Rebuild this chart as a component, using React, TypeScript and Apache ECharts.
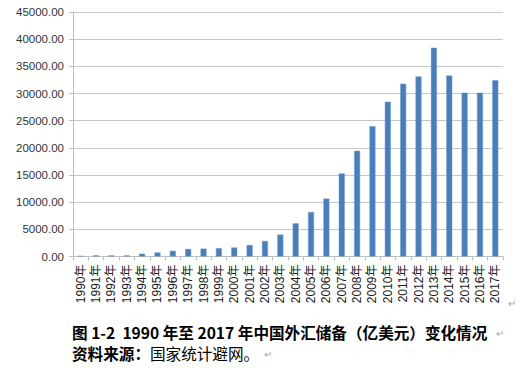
import React, { useEffect, useRef } from "react";
import * as echarts from "echarts";

const categories: string[] = [
  "1990年", "1991年", "1992年", "1993年", "1994年", "1995年", "1996年",
  "1997年", "1998年", "1999年", "2000年", "2001年", "2002年", "2003年",
  "2004年", "2005年", "2006年", "2007年", "2008年", "2009年", "2010年",
  "2011年", "2012年", "2013年", "2014年", "2015年", "2016年", "2017年",
];

const reserves: number[] = [
  110.93, 217.12, 194.43, 211.99, 516.2, 735.97, 1050.29,
  1398.9, 1449.59, 1546.75, 1655.74, 2121.65, 2864.07, 4032.51,
  6099.32, 8188.72, 10663.44, 15282.49, 19460.3, 23991.52, 28473.38,
  31811.48, 33115.89, 38430.18, 33303.62, 30150.0, 30150.0, 32450.0,
];

const yMin = 0;
const yMax = 45000;
const yInterval = 5000;

const captionTitle = "图 1-2  1990 年至 2017 年中国外汇储备（亿美元）变化情况";
const captionSourceLabel = "资料来源：";
const captionSource = "国家统计避网。";

export default function App() {
  const ref = useRef<HTMLDivElement>(null);

  useEffect(() => {
    if (!ref.current) return;
    const chart = echarts.init(ref.current, undefined, { renderer: "svg" });
    const latin = "'Liberation Sans', 'Noto Sans CJK SC', sans-serif";
    const cjk = "'Noto Sans CJK SC', sans-serif";
    chart.setOption({
      animation: false,
      backgroundColor: "#ffffff",
      grid: { left: 73, right: 26, top: 12, bottom: 113.5, containLabel: false },
      xAxis: {
        type: "category",
        data: categories,
        boundaryGap: true,
        axisLine: { show: true, lineStyle: { color: "#bfbfbf", width: 1 } },
        axisTick: { show: true, alignWithLabel: false, length: 4, lineStyle: { color: "#bfbfbf" } },
        axisLabel: {
          rotate: 90,
          interval: 0,
          margin: 8,
          color: "#1a1a1a",
          fontSize: 12,
          fontFamily: latin,
        },
        splitLine: { show: false },
      },
      yAxis: {
        type: "value",
        min: yMin,
        max: yMax,
        interval: yInterval,
        axisLine: { show: true, lineStyle: { color: "#bfbfbf", width: 1 } },
        axisTick: { show: true, length: 4, lineStyle: { color: "#bfbfbf" } },
        axisLabel: {
          margin: 9,
          color: "#333333",
          fontSize: 11.5,
          fontFamily: latin,
          formatter: (v: number) => v.toFixed(2),
        },
        splitLine: { show: true, lineStyle: { color: "#c6c6c6", width: 1 } },
      },
      series: [
        {
          type: "bar",
          data: reserves,
          barWidth: 6,
          itemStyle: { color: "#4a7ebb", borderColor: "#6f9ad0", borderWidth: 0.5 },
        },
      ],
      graphic: [
        {
          type: "text",
          left: 72,
          top: 323,
          style: {
            text: captionTitle,
            fontSize: 15.6,
            lineHeight: 18,
            fontWeight: "bold",
            fontFamily: cjk,
            fill: "#000000",
          },
        },
        {
          type: "text",
          left: 72,
          top: 344,
          style: {
            text: "{b|" + captionSourceLabel + "}{n|" + captionSource + "}",
            fontFamily: cjk,
            fill: "#000000",
            lineHeight: 18,
            rich: {
              b: { fontSize: 15.6, lineHeight: 18, fontWeight: "bold", fontFamily: cjk, fill: "#000000" },
              n: { fontSize: 15.6, lineHeight: 18, fontWeight: "normal", fontFamily: cjk, fill: "#000000" },
            },
          },
        },
        { type: "text", left: 508, top: 298, style: { text: "↵", fontSize: 10, fill: "#a8a8a8", fontFamily: latin } },
        { type: "text", left: 496, top: 328, style: { text: "↵", fontSize: 10, fill: "#a8a8a8", fontFamily: latin } },
        { type: "text", left: 264, top: 349, style: { text: "↵", fontSize: 10, fill: "#a8a8a8", fontFamily: latin } },
      ],
    });
    return () => chart.dispose();
  }, []);

  return (
    <div
      ref={ref}
      style={{ position: "absolute", left: 0, top: 0, width: 529, height: 370 }}
    />
  );
}
